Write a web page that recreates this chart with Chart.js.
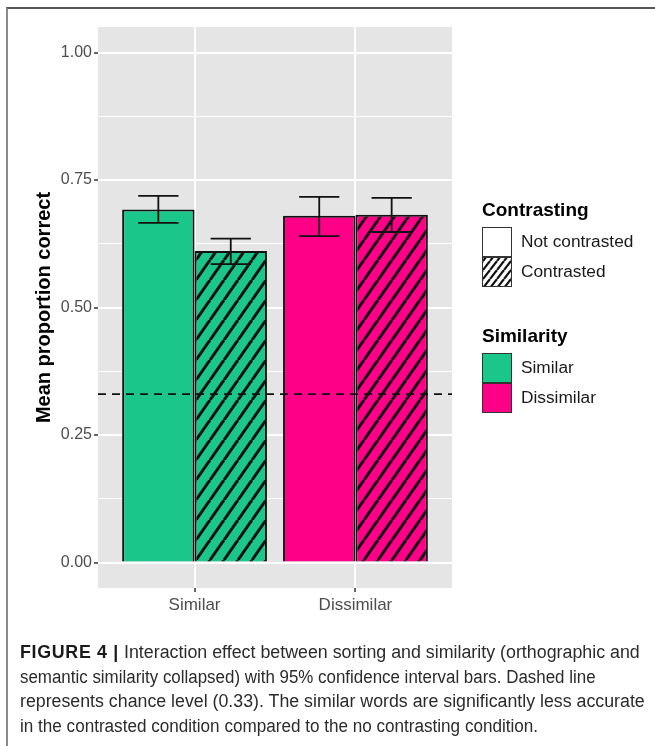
<!DOCTYPE html>
<html>
<head>
<meta charset="utf-8">
<script src="https://cdn.jsdelivr.net/npm/chart.js@4/dist/chart.umd.min.js"></script>
<style>
  html, body { margin: 0; padding: 0; background: #fff; }
  #wrap { position: relative; width: 655px; height: 746px; overflow: hidden; }
  #frame { position: absolute; left: 6px; top: 7px; width: 700px; height: 800px;
           border-left: 2px solid #8a8a8a; border-top: 2px solid #555; }
  canvas { position: absolute; left: 0; top: 0; }
  #caption { position: absolute; left: 20px; top: 640px; font-family: "Liberation Sans", Arial, sans-serif;
             font-size: 18px; color: #2b2b2b; line-height: 24.7px; white-space: nowrap; }
  #caption div { transform-origin: 0 0; }
  #caption b { color: #1a1a1a; letter-spacing: 0.7px; }
</style>
</head>
<body>
<div id="wrap">
  <div id="frame"></div>
  <canvas id="chart" width="655" height="746"></canvas>
  <div id="caption">
    <div style="transform: scaleX(0.99)"><b>FIGURE 4 |</b> Interaction effect between sorting and similarity (orthographic and</div>
    <div style="transform: scaleX(0.94)">semantic similarity collapsed) with 95% confidence interval bars. Dashed line</div>
    <div style="transform: scaleX(0.987)">represents chance level (0.33). The similar words are significantly less accurate</div>
    <div style="transform: scaleX(0.95)">in the contrasted condition compared to the no contrasting condition.</div>
  </div>
</div>
<script>
// Word groups on the x axis
const categories = ['Similar', 'Dissimilar'];
// Mean proportion correct per group
const notContrasted = [0.692, 0.680];
const contrasted = [0.611, 0.682];
// 95% confidence interval bounds
const notContrastedLow = [0.666, 0.640];
const notContrastedHigh = [0.719, 0.717];
const contrastedLow = [0.585, 0.648];
const contrastedHigh = [0.635, 0.715];
// Chance level
const chanceLevel = 0.33;
// Axis ticks
const yTicks = [0, 0.25, 0.5, 0.75, 1];
const yTickLabels = ['0.00', '0.25', '0.50', '0.75', '1.00'];
// Legend text
const contrastTitle = 'Contrasting';
const contrastLabels = ['Not contrasted', 'Contrasted'];
const similarityTitle = 'Similarity';
const similarityLabels = ['Similar', 'Dissimilar'];

const GREEN = '#1bc68a';
const PINK = '#fe0088';
const FONT = '"Liberation Sans", Arial, sans-serif';

function hatch(base, w, h, lw) {
  const c = document.createElement('canvas');
  c.width = w; c.height = h;
  const g = c.getContext('2d');
  g.fillStyle = base;
  g.fillRect(0, 0, w, h);
  g.strokeStyle = '#111';
  g.lineWidth = lw;
  for (let k = -1; k <= 1; k++) {
    g.beginPath();
    g.moveTo(k * w, h);
    g.lineTo(k * w + w, 0);
    g.stroke();
  }
  return g.createPattern(c, 'repeat');
}

const fillColors = [GREEN, PINK];
const hatchFills = [hatch(GREEN, 14, 20, 3), hatch(PINK, 14, 20, 3)];
const legendHatch = hatch('#ffffff', 7, 9, 2.2);

// ticks at every 0.125: majors labelled, minors as thin grid lines only
const minorTicks = yTicks.slice(0, -1).map((v, i) => (v + yTicks[i + 1]) / 2);
const isMajor = v => yTicks.some(t => Math.abs(t - v) < 1e-9);

const panelPlugin = {
  id: 'panel',
  beforeDraw(chart) {
    const { ctx, chartArea: a } = chart;
    ctx.save();
    ctx.fillStyle = '#e5e5e5';
    ctx.fillRect(a.left, a.top, a.right - a.left, a.bottom - a.top);
    ctx.restore();
  }
};

const overlayPlugin = {
  id: 'overlay',
  afterDatasetsDraw(chart) {
    const { ctx, chartArea: a, scales: { x, y } } = chart;
    const half = 0.125;
    const bounds = [[notContrastedLow, notContrastedHigh], [contrastedLow, contrastedHigh]];
    ctx.save();
    // confidence intervals
    ctx.strokeStyle = '#111';
    ctx.lineWidth = 1.8;
    bounds.forEach(([lo, hi], d) => {
      chart.getDatasetMeta(d).data.forEach((bar, i) => {
        const cx = bar.x;
        const capW = x.getPixelForValue(1 + half) - x.getPixelForValue(1);
        const yl = y.getPixelForValue(lo[i]);
        const yh = y.getPixelForValue(hi[i]);
        ctx.beginPath();
        ctx.moveTo(cx, yl); ctx.lineTo(cx, yh);
        ctx.moveTo(cx - capW, yl); ctx.lineTo(cx + capW, yl);
        ctx.moveTo(cx - capW, yh); ctx.lineTo(cx + capW, yh);
        ctx.stroke();
      });
    });
    // chance level
    const yc = y.getPixelForValue(chanceLevel);
    ctx.setLineDash([8, 6]);
    ctx.lineWidth = 1.8;
    ctx.beginPath();
    ctx.moveTo(a.left, yc);
    ctx.lineTo(a.right, yc);
    ctx.stroke();
    ctx.restore();
  }
};

const legendPlugin = {
  id: 'twoLegends',
  afterDraw(chart) {
    const { ctx } = chart;
    const left = 482, key = 30, textX = 521;
    ctx.save();
    function group(title, labels, fills, top) {
      ctx.font = 'bold 19px ' + FONT;
      ctx.fillStyle = '#000';
      ctx.textBaseline = 'middle';
      ctx.textAlign = 'left';
      ctx.fillText(title, left, top);
      labels.forEach((lab, i) => {
        const ky = top + 16 + i * key;
        ctx.fillStyle = fills[i];
        ctx.fillRect(left, ky, key, key);
        ctx.strokeStyle = '#333';
        ctx.lineWidth = 1;
        ctx.strokeRect(left + 0.5, ky + 0.5, key - 1, key - 1);
        ctx.fillStyle = '#1a1a1a';
        ctx.font = '17.3px ' + FONT;
        ctx.fillText(lab, textX, ky + key / 2);
      });
    }
    group(contrastTitle, contrastLabels, ['#ffffff', legendHatch], 211);
    group(similarityTitle, similarityLabels, fillColors, 337);
    ctx.restore();
  }
};

new Chart(document.getElementById('chart'), {
  type: 'bar',
  data: {
    datasets: [
      {
        label: contrastLabels[0],
        data: notContrasted.map((v, i) => ({ x: i + 1, y: v })),
        backgroundColor: fillColors,
        borderColor: '#111',
        borderWidth: 2,
        categoryPercentage: 0.9,
        barPercentage: 1
      },
      {
        label: contrastLabels[1],
        data: contrasted.map((v, i) => ({ x: i + 1, y: v })),
        backgroundColor: hatchFills,
        borderColor: '#111',
        borderWidth: 2,
        categoryPercentage: 0.9,
        barPercentage: 1
      }
    ]
  },
  options: {
    responsive: false,
    animation: false,
    events: [],
    layout: { padding: { left: 0, top: 27, right: 203, bottom: 128 } },
    plugins: { legend: { display: false }, tooltip: { enabled: false } },
    scales: {
      x: {
        type: 'linear',
        min: 0.4,
        max: 2.6,
        offset: false,
        afterBuildTicks(scale) { scale.ticks = categories.map((c, i) => ({ value: i + 1 })); },
        afterFit(scale) { scale.height = 30; },
        ticks: {
          callback: v => categories[Math.round(v) - 1] || '',
          color: '#4d4d4d',
          font: { family: FONT, size: 17 },
          padding: 3,
          maxRotation: 0
        },
        grid: { offset: false, color: '#ffffff', lineWidth: 2, tickLength: 4, tickColor: '#333', tickWidth: 1.5 },
        border: { display: false }
      },
      y: {
        type: 'linear',
        min: -0.05,
        max: 1.05,
        afterBuildTicks(scale) {
          scale.ticks = yTicks.concat(minorTicks).sort((a, b) => a - b).map(v => ({ value: v }));
        },
        afterFit(scale) { scale.width = 98; },
        ticks: {
          callback: v => {
            const i = yTicks.findIndex(t => Math.abs(t - v) < 1e-9);
            return i >= 0 ? yTickLabels[i] : '';
          },
          color: '#4d4d4d',
          font: { family: FONT, size: 16 },
          padding: 2
        },
        grid: {
          color: '#ffffff',
          lineWidth: c => (c.tick && isMajor(c.tick.value)) ? 2 : 1,
          tickLength: 4,
          tickWidth: 1.5,
          tickColor: c => (c.tick && isMajor(c.tick.value)) ? '#333' : 'rgba(0,0,0,0)'
        },
        border: { display: false },
        title: {
          display: true,
          text: 'Mean proportion correct',
          color: '#000',
          font: { family: FONT, size: 20, weight: 'bold' },
          padding: { top: 32, bottom: 0 }
        }
      }
    }
  },
  plugins: [panelPlugin, overlayPlugin, legendPlugin]
});
</script>
</body>
</html>
